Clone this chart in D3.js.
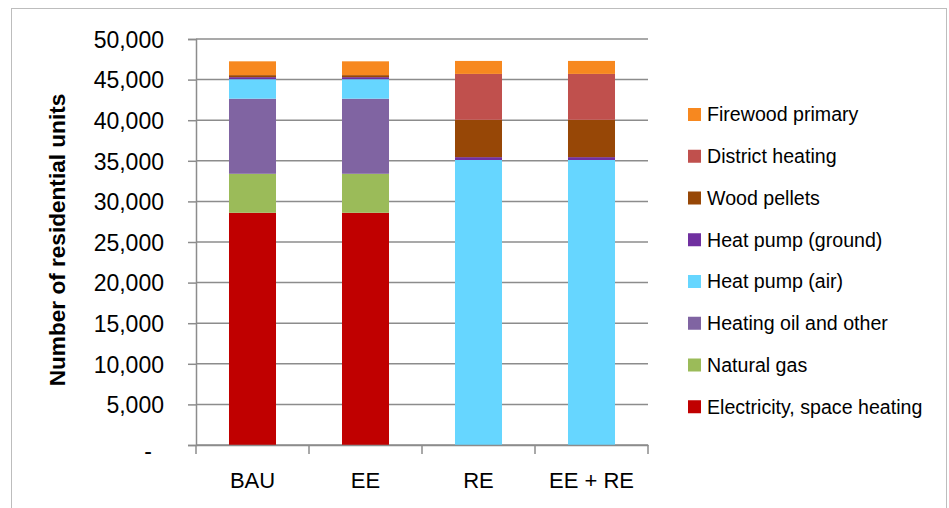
<!DOCTYPE html>
<html>
<head>
<meta charset="utf-8">
<script src="https://cdn.jsdelivr.net/npm/d3@7/dist/d3.min.js"></script>
<style>
  html, body { margin: 0; padding: 0; background: #ffffff; }
  svg { display: block; }
  text { font-family: "Liberation Sans", Arial, sans-serif; fill: #000; }
</style>
</head>
<body>
<svg id="chart" width="949" height="508"></svg>
<script>
// ---- data ----
const categories = ["BAU", "EE", "RE", "EE + RE"];
const seriesNames = [
  "Electricity, space heating",
  "Natural gas",
  "Heating oil and other",
  "Heat pump (air)",
  "Heat pump (ground)",
  "Wood pellets",
  "District heating",
  "Firewood primary"
];
const electricity = [28600, 28600, 0, 0];
const naturalGas  = [4800, 4800, 0, 0];
const heatingOil  = [9250, 9250, 0, 0];
const heatPumpAir = [2400, 2400, 35100, 35100];
const heatPumpGround = [250, 250, 350, 350];
const woodPellets = [250, 250, 4600, 4600];
const districtHeating = [0, 0, 5650, 5650];
const firewood = [1700, 1700, 1600, 1600];
const yTicks = [0, 5000, 10000, 15000, 20000, 25000, 30000, 35000, 40000, 45000, 50000];
const colors = ["#C00000", "#9BBB59", "#8064A2", "#66D6FF", "#7030A0", "#974706", "#C0504D", "#F7881F"];

const seriesValues = [electricity, naturalGas, heatingOil, heatPumpAir, heatPumpGround, woodPellets, districtHeating, firewood];

// ---- table for stack ----
const table = categories.map((c, i) => {
  const row = { category: c };
  seriesNames.forEach((s, j) => { row[s] = seriesValues[j][i]; });
  return row;
});
const stacked = d3.stack().keys(seriesNames)(table);

// ---- layout ----
const svg = d3.select("#chart");
const plot = { left: 196, right: 648, top: 39, bottom: 445 };

svg.append("rect").attr("x", 0).attr("y", 0).attr("width", 949).attr("height", 508).attr("fill", "#fff");
svg.append("rect")
  .attr("x", 11.5).attr("y", 8.5).attr("width", 935).attr("height", 520)
  .attr("fill", "none").attr("stroke", "#bdbdbd").attr("stroke-width", 1);

const x = d3.scaleBand().domain(categories).range([plot.left, plot.right]).padding(0);
const y = d3.scaleLinear().domain([0, 50000]).range([plot.bottom, plot.top]);

// gridlines
svg.append("g").selectAll("line").data(yTicks).join("line")
  .attr("x1", plot.left).attr("x2", plot.right)
  .attr("y1", d => y(d)).attr("y2", d => y(d))
  .attr("stroke", "#8c8c8c").attr("stroke-width", 1.5);

// bars
const barW = x.bandwidth() * 0.416;
svg.append("g").selectAll("g").data(stacked).join("g")
  .attr("fill", (d, i) => colors[i])
  .selectAll("rect").data(d => d).join("rect")
  .attr("x", d => x(d.data.category) + (x.bandwidth() - barW) / 2)
  .attr("width", barW)
  .attr("y", d => y(d[1]))
  .attr("height", d => Math.max(0, y(d[0]) - y(d[1])));

// y axis
const yAxis = d3.axisLeft(y).tickValues(yTicks).tickSize(8).tickPadding(24)
  .tickFormat(d => d === 0 ? "-" : d3.format(",")(d));
const gy = svg.append("g").attr("transform", `translate(${plot.left},0)`).call(yAxis);
gy.select(".domain").attr("stroke", "#8c8c8c").attr("stroke-width", 1.5);
gy.selectAll(".tick line").attr("stroke", "#8c8c8c").attr("stroke-width", 1.5);
gy.selectAll(".tick text")
  .style("font-family", "'Liberation Sans', Arial, sans-serif")
  .attr("font-size", 23).attr("fill", "#000").attr("dy", "0.36em");
gy.selectAll(".tick text").filter(d => d === 0).attr("x", -44).attr("dy", "0.6em");

// x axis
const xAxis = d3.axisBottom(x).tickSize(0).tickPadding(0).tickFormat(d => d);
const gx = svg.append("g").attr("transform", `translate(0,${plot.bottom})`).call(xAxis);
gx.select(".domain").attr("stroke", "#8c8c8c").attr("stroke-width", 1.5);
gx.selectAll(".tick text")
  .style("font-family", "'Liberation Sans', Arial, sans-serif")
  .attr("font-size", 22).attr("fill", "#000").attr("y", 42.5).attr("dy", 0);
// category boundary ticks
const edges = categories.map(c => x(c)).concat([plot.right]);
svg.append("g").selectAll("line").data(edges).join("line")
  .attr("x1", d => d).attr("x2", d => d)
  .attr("y1", plot.bottom).attr("y2", plot.bottom + 9)
  .attr("stroke", "#8c8c8c").attr("stroke-width", 1.5);

// y title
svg.append("text")
  .attr("transform", "translate(65,240) rotate(-90)")
  .attr("text-anchor", "middle")
  .attr("font-size", 22.6).attr("font-weight", "bold")
  .text("Number of residential units");

// legend (top: Firewood primary)
const legendOrder = seriesNames.map((s, i) => i).reverse();
const lg = svg.append("g").selectAll("g").data(legendOrder).join("g")
  .attr("transform", (d, k) => `translate(688,${114.5 + k * 41.75})`);
lg.append("rect").attr("x", 0).attr("y", -6.5).attr("width", 13).attr("height", 13)
  .attr("fill", d => colors[d]);
lg.append("text").attr("x", 19).attr("y", 6.8).attr("font-size", 19.6)
  .text(d => seriesNames[d]);
</script>
</body>
</html>
